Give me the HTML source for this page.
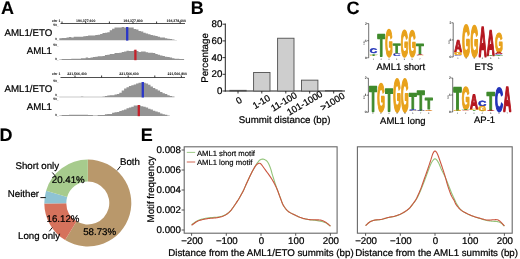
<!DOCTYPE html>
<html><head><meta charset="utf-8"><title>Figure</title>
<style>
html,body{margin:0;padding:0;background:#fff;}
body{width:520px;height:259px;overflow:hidden;}
svg{display:block;}
svg text{font-family:"Liberation Sans",Arial,sans-serif;text-rendering:geometricPrecision;}
</style></head><body>
<svg width="520" height="259" viewBox="0 0 520 259">
<defs><filter id="soft" x="0" y="0" width="100%" height="100%" filterUnits="userSpaceOnUse" color-interpolation-filters="sRGB"><feGaussianBlur stdDeviation="0.3"/></filter></defs>
<rect width="520" height="259" fill="#fff"/>
<g filter="url(#soft)">
<rect width="520" height="259" fill="#fff"/>
<text x="0.90" y="14.10" font-size="18" text-anchor="start" font-weight="bold" fill="#000" stroke="#000" stroke-width="0.1" >A</text>
<text x="190.80" y="14.10" font-size="18" text-anchor="start" font-weight="bold" fill="#000" stroke="#000" stroke-width="0.1" >B</text>
<text x="346.50" y="14.10" font-size="18" text-anchor="start" font-weight="bold" fill="#000" stroke="#000" stroke-width="0.1" >C</text>
<text x="-0.50" y="141.40" font-size="18" text-anchor="start" font-weight="bold" fill="#000" stroke="#000" stroke-width="0.1" >D</text>
<text x="140.80" y="141.40" font-size="18" text-anchor="start" font-weight="bold" fill="#000" stroke="#000" stroke-width="0.1" >E</text>
<line x1="60.5" y1="23.5" x2="185" y2="23.5" stroke="#222" stroke-width="0.8"/>
<line x1="62.0" y1="21.5" x2="62.0" y2="23.5" stroke="#222" stroke-width="0.9"/>
<line x1="85.7" y1="21.5" x2="85.7" y2="23.5" stroke="#222" stroke-width="0.9"/>
<line x1="109.4" y1="21.5" x2="109.4" y2="23.5" stroke="#222" stroke-width="0.9"/>
<line x1="133.0" y1="21.5" x2="133.0" y2="23.5" stroke="#222" stroke-width="0.9"/>
<line x1="156.6" y1="21.5" x2="156.6" y2="23.5" stroke="#222" stroke-width="0.9"/>
<line x1="180.2" y1="21.5" x2="180.2" y2="23.5" stroke="#222" stroke-width="0.9"/>
<text x="52.00" y="21.60" font-size="3.5" text-anchor="start" font-weight="bold" fill="#000" stroke="#000" stroke-width="0" >chr 1</text>
<text x="85.70" y="21.60" font-size="3.5" text-anchor="middle" font-weight="bold" fill="#000" stroke="#000" stroke-width="0" >194,377,600</text>
<text x="133.00" y="21.60" font-size="3.5" text-anchor="middle" font-weight="bold" fill="#000" stroke="#000" stroke-width="0" >194,377,800</text>
<text x="186.00" y="21.60" font-size="3.5" text-anchor="end" font-weight="bold" fill="#000" stroke="#000" stroke-width="0" >194,378,000</text>
<text x="58.50" y="26.00" font-size="3.2" text-anchor="end" font-weight="bold" fill="#000" stroke="#000" stroke-width="0" >50_</text>
<text x="58.50" y="40.10" font-size="3.2" text-anchor="end" font-weight="bold" fill="#000" stroke="#000" stroke-width="0" >0_</text>
<polygon points="59.3,40.3 59.3,38.3 61.7,38.3 61.7,37.9 64.1,37.9 64.1,37.9 66.5,37.9 66.5,37.5 68.9,37.5 68.9,37.1 71.3,37.1 71.3,37.5 73.7,37.5 73.7,36.7 76.1,36.7 76.1,36.7 78.5,36.7 78.5,36.7 80.9,36.7 80.9,36.7 83.3,36.7 83.3,36.3 85.7,36.3 85.7,35.9 88.1,35.9 88.1,35.5 90.5,35.5 90.5,35.5 92.9,35.5 92.9,35.5 95.3,35.5 95.3,35.1 97.7,35.1 97.7,34.7 100.1,34.7 100.1,33.9 102.5,33.9 102.5,33.1 104.9,33.1 104.9,32.7 107.3,32.7 107.3,32.3 109.7,32.3 109.7,30.3 112.1,30.3 112.1,28.7 114.5,28.7 114.5,27.5 116.9,27.5 116.9,27.5 119.3,27.5 119.3,27.5 121.7,27.5 121.7,27.1 124.1,27.1 124.1,27.5 126.5,27.5 126.5,27.5 128.9,27.5 128.9,27.5 131.3,27.5 131.3,27.5 133.7,27.5 133.7,29.1 136.1,29.1 136.1,29.5 138.5,29.5 138.5,31.1 140.9,31.1 140.9,31.5 143.3,31.5 143.3,32.7 145.7,32.7 145.7,33.5 148.1,33.5 148.1,34.3 150.5,34.3 150.5,35.1 152.9,35.1 152.9,35.5 155.3,35.5 155.3,35.9 157.7,35.9 157.7,36.7 160.1,36.7 160.1,37.5 162.5,37.5 162.5,37.5 164.9,37.5 164.9,38.3 167.3,38.3 167.3,38.7 169.7,38.7 169.7,39.1 172.1,39.1 172.1,39.5 174.5,39.5 174.5,39.9 176.9,39.9 176.9,40.3 179.3,40.3 179.3,40.3 181.7,40.3 181.7,40.3 184.1,40.3 184.1,40.3" fill="#939393"/>
<rect x="126.05" y="27.0" width="2.3" height="13.6" fill="#2a36c8"/>
<text x="58.50" y="46.40" font-size="3.2" text-anchor="end" font-weight="bold" fill="#000" stroke="#000" stroke-width="0" >50_</text>
<text x="58.50" y="59.70" font-size="3.2" text-anchor="end" font-weight="bold" fill="#000" stroke="#000" stroke-width="0" >0_</text>
<polygon points="59.3,59.9 59.3,59.5 61.7,59.5 61.7,59.1 64.1,59.1 64.1,59.1 66.5,59.1 66.5,59.1 68.9,59.1 68.9,59.1 71.3,59.1 71.3,58.7 73.7,58.7 73.7,58.7 76.1,58.7 76.1,58.7 78.5,58.7 78.5,58.7 80.9,58.7 80.9,58.3 83.3,58.3 83.3,58.3 85.7,58.3 85.7,57.5 88.1,57.5 88.1,57.9 90.5,57.9 90.5,57.5 92.9,57.5 92.9,57.1 95.3,57.1 95.3,56.7 97.7,56.7 97.7,56.3 100.1,56.3 100.1,56.3 102.5,56.3 102.5,55.9 104.9,55.9 104.9,55.1 107.3,55.1 107.3,54.7 109.7,54.7 109.7,53.9 112.1,53.9 112.1,53.9 114.5,53.9 114.5,53.1 116.9,53.1 116.9,53.1 119.3,53.1 119.3,52.7 121.7,52.7 121.7,51.9 124.1,51.9 124.1,51.5 126.5,51.5 126.5,50.7 128.9,50.7 128.9,51.1 131.3,51.1 131.3,51.1 133.7,51.1 133.7,50.3 136.1,50.3 136.1,51.1 138.5,51.1 138.5,51.9 140.9,51.9 140.9,51.5 143.3,51.5 143.3,51.5 145.7,51.5 145.7,52.3 148.1,52.3 148.1,52.7 150.5,52.7 150.5,52.7 152.9,52.7 152.9,53.1 155.3,53.1 155.3,53.9 157.7,53.9 157.7,54.7 160.1,54.7 160.1,55.5 162.5,55.5 162.5,55.9 164.9,55.9 164.9,56.7 167.3,56.7 167.3,57.1 169.7,57.1 169.7,57.5 172.1,57.5 172.1,58.3 174.5,58.3 174.5,58.7 176.9,58.7 176.9,58.7 179.3,58.7 179.3,59.1 181.7,59.1 181.7,59.1 184.1,59.1 184.1,59.9" fill="#939393"/>
<rect x="134.25" y="49.7" width="2.3" height="10.5" fill="#c4202a"/>
<text x="52.30" y="36.00" font-size="9.7" text-anchor="end" font-weight="normal" fill="#000" stroke="#000" stroke-width="0.22" >AML1/ETO</text>
<text x="52.00" y="54.40" font-size="9.7" text-anchor="end" font-weight="normal" fill="#000" stroke="#000" stroke-width="0.22" >AML1</text>
<line x1="60.5" y1="77.5" x2="185" y2="77.5" stroke="#222" stroke-width="0.8"/>
<line x1="75.0" y1="75.5" x2="75.0" y2="77.5" stroke="#222" stroke-width="0.9"/>
<line x1="101.6" y1="75.5" x2="101.6" y2="77.5" stroke="#222" stroke-width="0.9"/>
<line x1="128.2" y1="75.5" x2="128.2" y2="77.5" stroke="#222" stroke-width="0.9"/>
<line x1="154.8" y1="75.5" x2="154.8" y2="77.5" stroke="#222" stroke-width="0.9"/>
<line x1="181.4" y1="75.5" x2="181.4" y2="77.5" stroke="#222" stroke-width="0.9"/>
<text x="52.00" y="75.20" font-size="3.5" text-anchor="start" font-weight="bold" fill="#000" stroke="#000" stroke-width="0" >chr 1</text>
<text x="77.00" y="75.20" font-size="3.5" text-anchor="middle" font-weight="bold" fill="#000" stroke="#000" stroke-width="0" >221,566,400</text>
<text x="129.00" y="75.20" font-size="3.5" text-anchor="middle" font-weight="bold" fill="#000" stroke="#000" stroke-width="0" >221,566,600</text>
<text x="187.00" y="75.20" font-size="3.5" text-anchor="end" font-weight="bold" fill="#000" stroke="#000" stroke-width="0" >221,566,800</text>
<text x="58.50" y="81.80" font-size="3.2" text-anchor="end" font-weight="bold" fill="#000" stroke="#000" stroke-width="0" >50_</text>
<text x="58.50" y="96.30" font-size="3.2" text-anchor="end" font-weight="bold" fill="#000" stroke="#000" stroke-width="0" >0_</text>
<polygon points="59.3,97.2 59.3,96.8 61.7,96.8 61.7,96.8 64.1,96.8 64.1,96.8 66.5,96.8 66.5,96.8 68.9,96.8 68.9,96.8 71.3,96.8 71.3,96.8 73.7,96.8 73.7,96.8 76.1,96.8 76.1,96.8 78.5,96.8 78.5,96.8 80.9,96.8 80.9,96.4 83.3,96.4 83.3,96.8 85.7,96.8 85.7,96.8 88.1,96.8 88.1,96.8 90.5,96.8 90.5,96.8 92.9,96.8 92.9,96.8 95.3,96.8 95.3,96.8 97.7,96.8 97.7,96.8 100.1,96.8 100.1,96.8 102.5,96.8 102.5,96.4 104.9,96.4 104.9,96.0 107.3,96.0 107.3,95.6 109.7,95.6 109.7,95.2 112.1,95.2 112.1,95.2 114.5,95.2 114.5,94.4 116.9,94.4 116.9,94.0 119.3,94.0 119.3,92.8 121.7,92.8 121.7,90.4 124.1,90.4 124.1,88.4 126.5,88.4 126.5,87.2 128.9,87.2 128.9,86.0 131.3,86.0 131.3,85.2 133.7,85.2 133.7,84.4 136.1,84.4 136.1,83.6 138.5,83.6 138.5,82.8 140.9,82.8 140.9,82.4 143.3,82.4 143.3,82.8 145.7,82.8 145.7,83.6 148.1,83.6 148.1,84.8 150.5,84.8 150.5,86.4 152.9,86.4 152.9,88.0 155.3,88.0 155.3,89.2 157.7,89.2 157.7,90.4 160.1,90.4 160.1,92.0 162.5,92.0 162.5,93.2 164.9,93.2 164.9,94.0 167.3,94.0 167.3,95.2 169.7,95.2 169.7,96.0 172.1,96.0 172.1,96.4 174.5,96.4 174.5,97.2 176.9,97.2 176.9,97.2 179.3,97.2 179.3,97.2 181.7,97.2 181.7,97.2 184.1,97.2 184.1,97.2" fill="#939393"/>
<rect x="141.65" y="82.0" width="2.3" height="15.5" fill="#2a36c8"/>
<text x="58.50" y="100.40" font-size="3.2" text-anchor="end" font-weight="bold" fill="#000" stroke="#000" stroke-width="0" >50_</text>
<text x="58.50" y="115.50" font-size="3.2" text-anchor="end" font-weight="bold" fill="#000" stroke="#000" stroke-width="0" >0_</text>
<polygon points="59.3,115.9 59.3,115.5 61.7,115.5 61.7,115.1 64.1,115.1 64.1,115.1 66.5,115.1 66.5,115.1 68.9,115.1 68.9,114.7 71.3,114.7 71.3,114.7 73.7,114.7 73.7,114.7 76.1,114.7 76.1,114.7 78.5,114.7 78.5,114.7 80.9,114.7 80.9,114.7 83.3,114.7 83.3,114.7 85.7,114.7 85.7,114.7 88.1,114.7 88.1,115.1 90.5,115.1 90.5,115.1 92.9,115.1 92.9,115.5 95.3,115.5 95.3,115.5 97.7,115.5 97.7,115.1 100.1,115.1 100.1,115.1 102.5,115.1 102.5,115.1 104.9,115.1 104.9,114.3 107.3,114.3 107.3,113.9 109.7,113.9 109.7,113.9 112.1,113.9 112.1,112.7 114.5,112.7 114.5,112.3 116.9,112.3 116.9,111.9 119.3,111.9 119.3,111.1 121.7,111.1 121.7,110.3 124.1,110.3 124.1,109.5 126.5,109.5 126.5,108.3 128.9,108.3 128.9,107.5 131.3,107.5 131.3,106.7 133.7,106.7 133.7,105.5 136.1,105.5 136.1,105.5 138.5,105.5 138.5,105.5 140.9,105.5 140.9,106.3 143.3,106.3 143.3,106.7 145.7,106.7 145.7,107.5 148.1,107.5 148.1,108.7 150.5,108.7 150.5,109.5 152.9,109.5 152.9,110.7 155.3,110.7 155.3,111.5 157.7,111.5 157.7,112.3 160.1,112.3 160.1,113.5 162.5,113.5 162.5,114.3 164.9,114.3 164.9,114.7 167.3,114.7 167.3,115.5 169.7,115.5 169.7,115.9 172.1,115.9 172.1,115.9 174.5,115.9 174.5,115.9 176.9,115.9 176.9,115.9 179.3,115.9 179.3,115.9 181.7,115.9 181.7,115.9 184.1,115.9 184.1,115.9" fill="#939393"/>
<rect x="137.65" y="105.0" width="2.3" height="11.2" fill="#c4202a"/>
<text x="52.30" y="91.70" font-size="9.7" text-anchor="end" font-weight="normal" fill="#000" stroke="#000" stroke-width="0.22" >AML1/ETO</text>
<text x="52.00" y="110.40" font-size="9.7" text-anchor="end" font-weight="normal" fill="#000" stroke="#000" stroke-width="0.22" >AML1</text>
<line x1="225.3" y1="23.5" x2="225.3" y2="91.5" stroke="#222" stroke-width="1"/>
<line x1="224.8" y1="91.0" x2="345" y2="91.0" stroke="#222" stroke-width="1"/>
<line x1="222.5" y1="91.0" x2="225.3" y2="91.0" stroke="#222" stroke-width="0.9"/>
<text x="222.30" y="94.00" font-size="9.7" text-anchor="end" font-weight="normal" fill="#000" stroke="#000" stroke-width="0.22" >0</text>
<line x1="222.5" y1="74.3" x2="225.3" y2="74.3" stroke="#222" stroke-width="0.9"/>
<text x="222.30" y="77.30" font-size="9.7" text-anchor="end" font-weight="normal" fill="#000" stroke="#000" stroke-width="0.22" >20</text>
<line x1="222.5" y1="57.6" x2="225.3" y2="57.6" stroke="#222" stroke-width="0.9"/>
<text x="222.30" y="60.60" font-size="9.7" text-anchor="end" font-weight="normal" fill="#000" stroke="#000" stroke-width="0.22" >40</text>
<line x1="222.5" y1="40.9" x2="225.3" y2="40.9" stroke="#222" stroke-width="0.9"/>
<text x="222.30" y="43.90" font-size="9.7" text-anchor="end" font-weight="normal" fill="#000" stroke="#000" stroke-width="0.22" >60</text>
<line x1="222.5" y1="24.2" x2="225.3" y2="24.2" stroke="#222" stroke-width="0.9"/>
<text x="222.30" y="27.20" font-size="9.7" text-anchor="end" font-weight="normal" fill="#000" stroke="#000" stroke-width="0.22" >80</text>
<rect x="229.8" y="90.33" width="16.4" height="0.67" fill="#cecece" stroke="#505050" stroke-width="0.9"/>
<rect x="253.6" y="72.46" width="16.4" height="18.54" fill="#cecece" stroke="#505050" stroke-width="0.9"/>
<rect x="277.6" y="38.23" width="16.4" height="52.77" fill="#cecece" stroke="#505050" stroke-width="0.9"/>
<rect x="301.5" y="80.14" width="16.4" height="10.86" fill="#cecece" stroke="#505050" stroke-width="0.9"/>
<rect x="325.5" y="90.58" width="16.4" height="0.42" fill="#cecece" stroke="#505050" stroke-width="0.9"/>
<line x1="238.0" y1="91.0" x2="238.0" y2="93.5" stroke="#222" stroke-width="0.9"/>
<text transform="translate(240.6,103.2) rotate(-30.5)" font-size="9.4" text-anchor="middle" fill="#000" stroke="#000" stroke-width="0.22">0</text>
<line x1="261.8" y1="91.0" x2="261.8" y2="93.5" stroke="#222" stroke-width="0.9"/>
<text transform="translate(263.0,104.5) rotate(-30.5)" font-size="9.4" text-anchor="middle" fill="#000" stroke="#000" stroke-width="0.22">1-10</text>
<line x1="285.8" y1="91.0" x2="285.8" y2="93.5" stroke="#222" stroke-width="0.9"/>
<text transform="translate(285.5,104.4) rotate(-30.5)" font-size="9.4" text-anchor="middle" fill="#000" stroke="#000" stroke-width="0.22">11-100</text>
<line x1="309.7" y1="91.0" x2="309.7" y2="93.5" stroke="#222" stroke-width="0.9"/>
<text transform="translate(306.3,105.8) rotate(-30.5)" font-size="9.4" text-anchor="middle" fill="#000" stroke="#000" stroke-width="0.22">101-1000</text>
<line x1="333.7" y1="91.0" x2="333.7" y2="93.5" stroke="#222" stroke-width="0.9"/>
<text transform="translate(334.2,104.4) rotate(-30.5)" font-size="9.4" text-anchor="middle" fill="#000" stroke="#000" stroke-width="0.22">&gt;1000</text>
<text x="284.60" y="123.00" font-size="9.7" text-anchor="middle" font-weight="normal" fill="#000" stroke="#000" stroke-width="0.22" >Summit distance (bp)</text>
<text transform="translate(208.3,58) rotate(-90)" font-size="9.7" text-anchor="middle" fill="#000" stroke="#000" stroke-width="0.22">Percentage</text>
<line x1="368.7" y1="23.6" x2="368.7" y2="57.8" stroke="#333" stroke-width="0.7"/>
<line x1="367.2" y1="23.6" x2="368.7" y2="23.6" stroke="#333" stroke-width="0.7"/>
<line x1="367.2" y1="40.7" x2="368.7" y2="40.7" stroke="#333" stroke-width="0.7"/>
<line x1="367.2" y1="57.8" x2="368.7" y2="57.8" stroke="#333" stroke-width="0.7"/>
<text x="366.90" y="24.60" font-size="3.3" text-anchor="end" font-weight="normal" fill="#000" stroke="#000" stroke-width="0.08" >2</text>
<text x="366.90" y="41.70" font-size="3.3" text-anchor="end" font-weight="normal" fill="#000" stroke="#000" stroke-width="0.08" >1</text>
<text x="366.90" y="58.80" font-size="3.3" text-anchor="end" font-weight="normal" fill="#000" stroke="#000" stroke-width="0.08" >0</text>
<text transform="translate(365.09999999999997,42.7) rotate(-90)" font-size="2.6" text-anchor="middle" fill="#444">bits</text>
<text transform="translate(373.50,53.36) scale(1.029,0.672)" font-size="10" font-weight="bold" text-anchor="middle" fill="#2233b8" stroke="#2233b8" stroke-width="0.7" stroke-linejoin="round" vector-effect="non-scaling-stroke">C</text>
<text transform="translate(373.50,55.50) scale(1.269,0.250)" font-size="10" font-weight="bold" text-anchor="middle" fill="#3f8a2c" stroke="#3f8a2c" stroke-width="0.3" stroke-linejoin="round" vector-effect="non-scaling-stroke">T</text>
<text transform="translate(373.50,56.30) scale(0.997,0.082)" font-size="10" font-weight="bold" text-anchor="middle" fill="#e8a21c" stroke="#e8a21c" stroke-width="0.3" stroke-linejoin="round" vector-effect="non-scaling-stroke">G</text>
<text x="373.38" y="59.90" font-size="2.4" text-anchor="middle" font-weight="normal" fill="#444" stroke="#444" stroke-width="0" >1</text>
<text transform="translate(381.26,56.16) scale(1.216,3.088)" font-size="10" font-weight="bold" text-anchor="middle" fill="#3f8a2c" stroke="#3f8a2c" stroke-width="0.7" stroke-linejoin="round" vector-effect="non-scaling-stroke">T</text>
<text x="381.14" y="59.90" font-size="2.4" text-anchor="middle" font-weight="normal" fill="#444" stroke="#444" stroke-width="0" >2</text>
<text transform="translate(389.02,56.16) scale(0.955,3.703)" font-size="10" font-weight="bold" text-anchor="middle" fill="#e8a21c" stroke="#e8a21c" stroke-width="0.7" stroke-linejoin="round" vector-effect="non-scaling-stroke">G</text>
<text x="388.90" y="59.90" font-size="2.4" text-anchor="middle" font-weight="normal" fill="#444" stroke="#444" stroke-width="0" >3</text>
<text transform="translate(396.78,52.96) scale(1.216,1.328)" font-size="10" font-weight="bold" text-anchor="middle" fill="#3f8a2c" stroke="#3f8a2c" stroke-width="0.7" stroke-linejoin="round" vector-effect="non-scaling-stroke">T</text>
<text transform="translate(396.78,53.50) scale(0.997,0.068)" font-size="10" font-weight="bold" text-anchor="middle" fill="#e8a21c" stroke="#e8a21c" stroke-width="0.3" stroke-linejoin="round" vector-effect="non-scaling-stroke">G</text>
<text transform="translate(396.78,56.30) scale(1.074,0.390)" font-size="10" font-weight="bold" text-anchor="middle" fill="#2233b8" stroke="#2233b8" stroke-width="0.3" stroke-linejoin="round" vector-effect="non-scaling-stroke">C</text>
<text x="396.66" y="59.90" font-size="2.4" text-anchor="middle" font-weight="normal" fill="#444" stroke="#444" stroke-width="0" >4</text>
<text transform="translate(404.54,56.16) scale(0.955,3.619)" font-size="10" font-weight="bold" text-anchor="middle" fill="#e8a21c" stroke="#e8a21c" stroke-width="0.7" stroke-linejoin="round" vector-effect="non-scaling-stroke">G</text>
<text x="404.42" y="59.90" font-size="2.4" text-anchor="middle" font-weight="normal" fill="#444" stroke="#444" stroke-width="0" >5</text>
<text transform="translate(412.30,56.16) scale(0.955,3.591)" font-size="10" font-weight="bold" text-anchor="middle" fill="#e8a21c" stroke="#e8a21c" stroke-width="0.7" stroke-linejoin="round" vector-effect="non-scaling-stroke">G</text>
<text x="412.18" y="59.90" font-size="2.4" text-anchor="middle" font-weight="normal" fill="#444" stroke="#444" stroke-width="0" >6</text>
<text transform="translate(420.06,54.46) scale(1.216,1.454)" font-size="10" font-weight="bold" text-anchor="middle" fill="#3f8a2c" stroke="#3f8a2c" stroke-width="0.7" stroke-linejoin="round" vector-effect="non-scaling-stroke">T</text>
<text transform="translate(420.06,55.30) scale(1.074,0.068)" font-size="10" font-weight="bold" text-anchor="middle" fill="#b5161f" stroke="#b5161f" stroke-width="0.3" stroke-linejoin="round" vector-effect="non-scaling-stroke">A</text>
<text transform="translate(420.06,55.90) scale(0.997,0.054)" font-size="10" font-weight="bold" text-anchor="middle" fill="#e8a21c" stroke="#e8a21c" stroke-width="0.3" stroke-linejoin="round" vector-effect="non-scaling-stroke">G</text>
<text transform="translate(420.06,56.30) scale(1.074,0.042)" font-size="10" font-weight="bold" text-anchor="middle" fill="#2233b8" stroke="#2233b8" stroke-width="0.3" stroke-linejoin="round" vector-effect="non-scaling-stroke">C</text>
<text x="419.94" y="59.90" font-size="2.4" text-anchor="middle" font-weight="normal" fill="#444" stroke="#444" stroke-width="0" >7</text>
<text x="400.80" y="70.00" font-size="9.5" text-anchor="middle" font-weight="normal" fill="#000" stroke="#000" stroke-width="0.22" >AML1 short</text>
<line x1="453.2" y1="22.8" x2="453.2" y2="57.0" stroke="#333" stroke-width="0.7"/>
<line x1="451.7" y1="22.8" x2="453.2" y2="22.8" stroke="#333" stroke-width="0.7"/>
<line x1="451.7" y1="39.9" x2="453.2" y2="39.9" stroke="#333" stroke-width="0.7"/>
<line x1="451.7" y1="57.0" x2="453.2" y2="57.0" stroke="#333" stroke-width="0.7"/>
<text x="451.40" y="23.80" font-size="3.3" text-anchor="end" font-weight="normal" fill="#000" stroke="#000" stroke-width="0.08" >2</text>
<text x="451.40" y="40.90" font-size="3.3" text-anchor="end" font-weight="normal" fill="#000" stroke="#000" stroke-width="0.08" >1</text>
<text x="451.40" y="58.00" font-size="3.3" text-anchor="end" font-weight="normal" fill="#000" stroke="#000" stroke-width="0.08" >0</text>
<text transform="translate(449.59999999999997,41.9) rotate(-90)" font-size="2.6" text-anchor="middle" fill="#444">bits</text>
<text transform="translate(458.10,51.66) scale(1.085,1.705)" font-size="10" font-weight="bold" text-anchor="middle" fill="#b5161f" stroke="#b5161f" stroke-width="0.7" stroke-linejoin="round" vector-effect="non-scaling-stroke">A</text>
<text transform="translate(458.10,55.16) scale(1.007,0.420)" font-size="10" font-weight="bold" text-anchor="middle" fill="#e8a21c" stroke="#e8a21c" stroke-width="0.7" stroke-linejoin="round" vector-effect="non-scaling-stroke">G</text>
<text transform="translate(458.10,56.20) scale(1.129,0.096)" font-size="10" font-weight="bold" text-anchor="middle" fill="#2233b8" stroke="#2233b8" stroke-width="0.3" stroke-linejoin="round" vector-effect="non-scaling-stroke">C</text>
<text x="457.97" y="59.10" font-size="2.4" text-anchor="middle" font-weight="normal" fill="#444" stroke="#444" stroke-width="0" >1</text>
<text transform="translate(466.25,56.05) scale(1.007,4.359)" font-size="10" font-weight="bold" text-anchor="middle" fill="#e8a21c" stroke="#e8a21c" stroke-width="0.7" stroke-linejoin="round" vector-effect="non-scaling-stroke">G</text>
<text x="466.12" y="59.10" font-size="2.4" text-anchor="middle" font-weight="normal" fill="#444" stroke="#444" stroke-width="0" >2</text>
<text transform="translate(474.40,56.05) scale(1.007,4.247)" font-size="10" font-weight="bold" text-anchor="middle" fill="#e8a21c" stroke="#e8a21c" stroke-width="0.7" stroke-linejoin="round" vector-effect="non-scaling-stroke">G</text>
<text x="474.27" y="59.10" font-size="2.4" text-anchor="middle" font-weight="normal" fill="#444" stroke="#444" stroke-width="0" >3</text>
<text transform="translate(482.55,56.05) scale(1.085,4.108)" font-size="10" font-weight="bold" text-anchor="middle" fill="#b5161f" stroke="#b5161f" stroke-width="0.7" stroke-linejoin="round" vector-effect="non-scaling-stroke">A</text>
<text x="482.42" y="59.10" font-size="2.4" text-anchor="middle" font-weight="normal" fill="#444" stroke="#444" stroke-width="0" >4</text>
<text transform="translate(490.70,55.16) scale(1.085,3.479)" font-size="10" font-weight="bold" text-anchor="middle" fill="#b5161f" stroke="#b5161f" stroke-width="0.7" stroke-linejoin="round" vector-effect="non-scaling-stroke">A</text>
<text transform="translate(490.70,56.20) scale(1.335,0.096)" font-size="10" font-weight="bold" text-anchor="middle" fill="#3f8a2c" stroke="#3f8a2c" stroke-width="0.3" stroke-linejoin="round" vector-effect="non-scaling-stroke">T</text>
<text x="490.57" y="59.10" font-size="2.4" text-anchor="middle" font-weight="normal" fill="#444" stroke="#444" stroke-width="0" >5</text>
<text transform="translate(498.85,51.55) scale(1.007,2.655)" font-size="10" font-weight="bold" text-anchor="middle" fill="#e8a21c" stroke="#e8a21c" stroke-width="0.7" stroke-linejoin="round" vector-effect="non-scaling-stroke">G</text>
<text transform="translate(498.85,54.30) scale(1.129,0.334)" font-size="10" font-weight="bold" text-anchor="middle" fill="#b5161f" stroke="#b5161f" stroke-width="0.3" stroke-linejoin="round" vector-effect="non-scaling-stroke">A</text>
<text transform="translate(498.85,55.20) scale(1.129,0.096)" font-size="10" font-weight="bold" text-anchor="middle" fill="#2233b8" stroke="#2233b8" stroke-width="0.3" stroke-linejoin="round" vector-effect="non-scaling-stroke">C</text>
<text transform="translate(498.85,56.20) scale(1.335,0.110)" font-size="10" font-weight="bold" text-anchor="middle" fill="#3f8a2c" stroke="#3f8a2c" stroke-width="0.3" stroke-linejoin="round" vector-effect="non-scaling-stroke">T</text>
<text x="498.72" y="59.10" font-size="2.4" text-anchor="middle" font-weight="normal" fill="#444" stroke="#444" stroke-width="0" >6</text>
<text x="483.80" y="70.00" font-size="9.5" text-anchor="middle" font-weight="normal" fill="#000" stroke="#000" stroke-width="0.22" >ETS</text>
<line x1="368.4" y1="78.2" x2="368.4" y2="112.2" stroke="#333" stroke-width="0.7"/>
<line x1="366.9" y1="78.2" x2="368.4" y2="78.2" stroke="#333" stroke-width="0.7"/>
<line x1="366.9" y1="95.2" x2="368.4" y2="95.2" stroke="#333" stroke-width="0.7"/>
<line x1="366.9" y1="112.2" x2="368.4" y2="112.2" stroke="#333" stroke-width="0.7"/>
<text x="366.60" y="79.20" font-size="3.3" text-anchor="end" font-weight="normal" fill="#000" stroke="#000" stroke-width="0.08" >2</text>
<text x="366.60" y="96.20" font-size="3.3" text-anchor="end" font-weight="normal" fill="#000" stroke="#000" stroke-width="0.08" >1</text>
<text x="366.60" y="113.20" font-size="3.3" text-anchor="end" font-weight="normal" fill="#000" stroke="#000" stroke-width="0.08" >0</text>
<text transform="translate(364.79999999999995,97.2) rotate(-90)" font-size="2.6" text-anchor="middle" fill="#444">bits</text>
<text transform="translate(373.10,111.16) scale(1.250,3.479)" font-size="10" font-weight="bold" text-anchor="middle" fill="#3f8a2c" stroke="#3f8a2c" stroke-width="0.7" stroke-linejoin="round" vector-effect="non-scaling-stroke">T</text>
<text x="372.98" y="114.30" font-size="2.4" text-anchor="middle" font-weight="normal" fill="#444" stroke="#444" stroke-width="0" >1</text>
<text transform="translate(381.06,111.16) scale(0.982,3.842)" font-size="10" font-weight="bold" text-anchor="middle" fill="#e8a21c" stroke="#e8a21c" stroke-width="0.7" stroke-linejoin="round" vector-effect="non-scaling-stroke">G</text>
<text x="380.94" y="114.30" font-size="2.4" text-anchor="middle" font-weight="normal" fill="#444" stroke="#444" stroke-width="0" >2</text>
<text transform="translate(389.02,111.16) scale(1.250,3.144)" font-size="10" font-weight="bold" text-anchor="middle" fill="#3f8a2c" stroke="#3f8a2c" stroke-width="0.7" stroke-linejoin="round" vector-effect="non-scaling-stroke">T</text>
<text x="388.90" y="114.30" font-size="2.4" text-anchor="middle" font-weight="normal" fill="#444" stroke="#444" stroke-width="0" >3</text>
<text transform="translate(396.98,111.16) scale(0.982,4.513)" font-size="10" font-weight="bold" text-anchor="middle" fill="#e8a21c" stroke="#e8a21c" stroke-width="0.7" stroke-linejoin="round" vector-effect="non-scaling-stroke">G</text>
<text x="396.86" y="114.30" font-size="2.4" text-anchor="middle" font-weight="normal" fill="#444" stroke="#444" stroke-width="0" >4</text>
<text transform="translate(404.94,111.16) scale(0.982,4.513)" font-size="10" font-weight="bold" text-anchor="middle" fill="#e8a21c" stroke="#e8a21c" stroke-width="0.7" stroke-linejoin="round" vector-effect="non-scaling-stroke">G</text>
<text x="404.82" y="114.30" font-size="2.4" text-anchor="middle" font-weight="normal" fill="#444" stroke="#444" stroke-width="0" >5</text>
<text transform="translate(412.90,109.05) scale(1.250,2.236)" font-size="10" font-weight="bold" text-anchor="middle" fill="#3f8a2c" stroke="#3f8a2c" stroke-width="0.7" stroke-linejoin="round" vector-effect="non-scaling-stroke">T</text>
<text transform="translate(412.90,110.80) scale(1.102,0.236)" font-size="10" font-weight="bold" text-anchor="middle" fill="#2233b8" stroke="#2233b8" stroke-width="0.3" stroke-linejoin="round" vector-effect="non-scaling-stroke">C</text>
<text transform="translate(412.90,111.30) scale(1.023,0.042)" font-size="10" font-weight="bold" text-anchor="middle" fill="#e8a21c" stroke="#e8a21c" stroke-width="0.3" stroke-linejoin="round" vector-effect="non-scaling-stroke">G</text>
<text x="412.78" y="114.30" font-size="2.4" text-anchor="middle" font-weight="normal" fill="#444" stroke="#444" stroke-width="0" >6</text>
<text transform="translate(420.86,109.55) scale(1.250,2.739)" font-size="10" font-weight="bold" text-anchor="middle" fill="#3f8a2c" stroke="#3f8a2c" stroke-width="0.7" stroke-linejoin="round" vector-effect="non-scaling-stroke">T</text>
<text transform="translate(420.86,110.80) scale(1.102,0.166)" font-size="10" font-weight="bold" text-anchor="middle" fill="#2233b8" stroke="#2233b8" stroke-width="0.3" stroke-linejoin="round" vector-effect="non-scaling-stroke">C</text>
<text transform="translate(420.86,111.30) scale(1.023,0.042)" font-size="10" font-weight="bold" text-anchor="middle" fill="#e8a21c" stroke="#e8a21c" stroke-width="0.3" stroke-linejoin="round" vector-effect="non-scaling-stroke">G</text>
<text x="420.74" y="114.30" font-size="2.4" text-anchor="middle" font-weight="normal" fill="#444" stroke="#444" stroke-width="0" >7</text>
<text transform="translate(428.82,109.35) scale(1.250,1.580)" font-size="10" font-weight="bold" text-anchor="middle" fill="#3f8a2c" stroke="#3f8a2c" stroke-width="0.7" stroke-linejoin="round" vector-effect="non-scaling-stroke">T</text>
<text transform="translate(428.82,110.69) scale(1.023,0.138)" font-size="10" font-weight="bold" text-anchor="middle" fill="#e8a21c" stroke="#e8a21c" stroke-width="0.3" stroke-linejoin="round" vector-effect="non-scaling-stroke">G</text>
<text transform="translate(428.82,111.30) scale(1.102,0.054)" font-size="10" font-weight="bold" text-anchor="middle" fill="#b5161f" stroke="#b5161f" stroke-width="0.3" stroke-linejoin="round" vector-effect="non-scaling-stroke">A</text>
<text x="428.70" y="114.30" font-size="2.4" text-anchor="middle" font-weight="normal" fill="#444" stroke="#444" stroke-width="0" >8</text>
<text x="402.80" y="123.90" font-size="9.5" text-anchor="middle" font-weight="normal" fill="#000" stroke="#000" stroke-width="0.22" >AML1 long</text>
<line x1="452.7" y1="78" x2="452.7" y2="112" stroke="#333" stroke-width="0.7"/>
<line x1="451.2" y1="78" x2="452.7" y2="78" stroke="#333" stroke-width="0.7"/>
<line x1="451.2" y1="95.0" x2="452.7" y2="95.0" stroke="#333" stroke-width="0.7"/>
<line x1="451.2" y1="112" x2="452.7" y2="112" stroke="#333" stroke-width="0.7"/>
<text x="450.90" y="79.00" font-size="3.3" text-anchor="end" font-weight="normal" fill="#000" stroke="#000" stroke-width="0.08" >2</text>
<text x="450.90" y="96.00" font-size="3.3" text-anchor="end" font-weight="normal" fill="#000" stroke="#000" stroke-width="0.08" >1</text>
<text x="450.90" y="113.00" font-size="3.3" text-anchor="end" font-weight="normal" fill="#000" stroke="#000" stroke-width="0.08" >0</text>
<text transform="translate(449.09999999999997,97.0) rotate(-90)" font-size="2.6" text-anchor="middle" fill="#444">bits</text>
<text transform="translate(457.47,109.55) scale(1.308,3.200)" font-size="10" font-weight="bold" text-anchor="middle" fill="#3f8a2c" stroke="#3f8a2c" stroke-width="0.7" stroke-linejoin="round" vector-effect="non-scaling-stroke">T</text>
<text transform="translate(457.47,111.19) scale(1.068,0.180)" font-size="10" font-weight="bold" text-anchor="middle" fill="#e8a21c" stroke="#e8a21c" stroke-width="0.3" stroke-linejoin="round" vector-effect="non-scaling-stroke">G</text>
<text x="457.35" y="114.10" font-size="2.4" text-anchor="middle" font-weight="normal" fill="#444" stroke="#444" stroke-width="0" >1</text>
<text transform="translate(465.77,109.35) scale(1.027,3.088)" font-size="10" font-weight="bold" text-anchor="middle" fill="#e8a21c" stroke="#e8a21c" stroke-width="0.7" stroke-linejoin="round" vector-effect="non-scaling-stroke">G</text>
<text transform="translate(465.77,110.39) scale(1.360,0.096)" font-size="10" font-weight="bold" text-anchor="middle" fill="#3f8a2c" stroke="#3f8a2c" stroke-width="0.3" stroke-linejoin="round" vector-effect="non-scaling-stroke">T</text>
<text transform="translate(465.77,111.19) scale(1.151,0.082)" font-size="10" font-weight="bold" text-anchor="middle" fill="#b5161f" stroke="#b5161f" stroke-width="0.3" stroke-linejoin="round" vector-effect="non-scaling-stroke">A</text>
<text x="465.65" y="114.10" font-size="2.4" text-anchor="middle" font-weight="normal" fill="#444" stroke="#444" stroke-width="0" >2</text>
<text transform="translate(474.07,108.55) scale(1.107,2.082)" font-size="10" font-weight="bold" text-anchor="middle" fill="#b5161f" stroke="#b5161f" stroke-width="0.7" stroke-linejoin="round" vector-effect="non-scaling-stroke">A</text>
<text transform="translate(474.07,110.09) scale(1.068,0.166)" font-size="10" font-weight="bold" text-anchor="middle" fill="#e8a21c" stroke="#e8a21c" stroke-width="0.3" stroke-linejoin="round" vector-effect="non-scaling-stroke">G</text>
<text transform="translate(474.07,111.19) scale(1.360,0.124)" font-size="10" font-weight="bold" text-anchor="middle" fill="#3f8a2c" stroke="#3f8a2c" stroke-width="0.3" stroke-linejoin="round" vector-effect="non-scaling-stroke">T</text>
<text x="473.95" y="114.10" font-size="2.4" text-anchor="middle" font-weight="normal" fill="#444" stroke="#444" stroke-width="0" >3</text>
<text transform="translate(482.37,105.55) scale(1.107,0.742)" font-size="10" font-weight="bold" text-anchor="middle" fill="#2233b8" stroke="#2233b8" stroke-width="0.7" stroke-linejoin="round" vector-effect="non-scaling-stroke">C</text>
<text transform="translate(482.37,110.75) scale(1.027,0.700)" font-size="10" font-weight="bold" text-anchor="middle" fill="#e8a21c" stroke="#e8a21c" stroke-width="0.7" stroke-linejoin="round" vector-effect="non-scaling-stroke">G</text>
<text transform="translate(482.37,111.19) scale(1.360,0.042)" font-size="10" font-weight="bold" text-anchor="middle" fill="#3f8a2c" stroke="#3f8a2c" stroke-width="0.3" stroke-linejoin="round" vector-effect="non-scaling-stroke">T</text>
<text x="482.25" y="114.10" font-size="2.4" text-anchor="middle" font-weight="normal" fill="#444" stroke="#444" stroke-width="0" >4</text>
<text transform="translate(490.67,109.55) scale(1.308,2.529)" font-size="10" font-weight="bold" text-anchor="middle" fill="#3f8a2c" stroke="#3f8a2c" stroke-width="0.7" stroke-linejoin="round" vector-effect="non-scaling-stroke">T</text>
<text transform="translate(490.67,111.19) scale(1.151,0.180)" font-size="10" font-weight="bold" text-anchor="middle" fill="#b5161f" stroke="#b5161f" stroke-width="0.3" stroke-linejoin="round" vector-effect="non-scaling-stroke">A</text>
<text x="490.55" y="114.10" font-size="2.4" text-anchor="middle" font-weight="normal" fill="#444" stroke="#444" stroke-width="0" >5</text>
<text transform="translate(498.97,110.55) scale(1.107,3.284)" font-size="10" font-weight="bold" text-anchor="middle" fill="#2233b8" stroke="#2233b8" stroke-width="0.7" stroke-linejoin="round" vector-effect="non-scaling-stroke">C</text>
<text x="498.85" y="114.10" font-size="2.4" text-anchor="middle" font-weight="normal" fill="#444" stroke="#444" stroke-width="0" >6</text>
<text transform="translate(507.27,110.55) scale(1.107,3.423)" font-size="10" font-weight="bold" text-anchor="middle" fill="#b5161f" stroke="#b5161f" stroke-width="0.7" stroke-linejoin="round" vector-effect="non-scaling-stroke">A</text>
<text x="507.15" y="114.10" font-size="2.4" text-anchor="middle" font-weight="normal" fill="#444" stroke="#444" stroke-width="0" >7</text>
<text x="484.60" y="123.40" font-size="9.5" text-anchor="middle" font-weight="normal" fill="#000" stroke="#000" stroke-width="0.22" >AP-1</text>
<path d="M87.80,159.50 A43.5,43.5 0 1 1 65.12,240.12 L76.59,221.35 A21.5,21.5 0 1 0 87.80,181.50 Z" fill="#b9986b"/>
<path d="M65.12,240.12 A43.5,43.5 0 0 1 44.30,203.41 L66.30,203.20 A21.5,21.5 0 0 0 76.59,221.35 Z" fill="#d6725c"/>
<path d="M44.30,203.41 A43.5,43.5 0 0 1 46.10,190.63 L67.19,196.89 A21.5,21.5 0 0 0 66.30,203.20 Z" fill="#8ec3d3"/>
<path d="M46.10,190.63 A43.5,43.5 0 0 1 87.80,159.50 L87.80,181.50 A21.5,21.5 0 0 0 67.19,196.89 Z" fill="#a7cb8d"/>
<line x1="52.3" y1="172.5" x2="56.2" y2="177" stroke="#111" stroke-width="1"/>
<line x1="120.4" y1="166.3" x2="117.2" y2="170.4" stroke="#111" stroke-width="1"/>
<line x1="40.4" y1="197.6" x2="45.8" y2="197.6" stroke="#111" stroke-width="1"/>
<line x1="49.3" y1="231.3" x2="52.3" y2="227.5" stroke="#111" stroke-width="1"/>
<text x="15.50" y="168.80" font-size="9.7" text-anchor="start" font-weight="normal" fill="#000" stroke="#000" stroke-width="0.22" >Short only</text>
<text x="120.00" y="165.20" font-size="9.7" text-anchor="start" font-weight="normal" fill="#000" stroke="#000" stroke-width="0.22" >Both</text>
<text x="7.80" y="197.30" font-size="9.7" text-anchor="start" font-weight="normal" fill="#000" stroke="#000" stroke-width="0.22" >Neither</text>
<text x="18.00" y="238.80" font-size="9.7" text-anchor="start" font-weight="normal" fill="#000" stroke="#000" stroke-width="0.22" >Long only</text>
<text x="51.80" y="182.80" font-size="9.7" text-anchor="start" font-weight="normal" fill="#000" stroke="#000" stroke-width="0.22" >20.41%</text>
<text x="46.60" y="221.70" font-size="9.7" text-anchor="start" font-weight="normal" fill="#000" stroke="#000" stroke-width="0.22" >16.12%</text>
<text x="83.20" y="235.10" font-size="9.7" text-anchor="start" font-weight="normal" fill="#000" stroke="#000" stroke-width="0.22" >58.73%</text>
<rect x="184.2" y="146.8" width="152.90000000000003" height="86.39999999999998" fill="none" stroke="#686868" stroke-width="1.1"/>
<line x1="181.6" y1="230" x2="184.2" y2="230" stroke="#444" stroke-width="0.9"/>
<text x="180.80" y="233.40" font-size="9.7" text-anchor="end" font-weight="normal" fill="#000" stroke="#000" stroke-width="0.22" >0.000</text>
<line x1="181.6" y1="210" x2="184.2" y2="210" stroke="#444" stroke-width="0.9"/>
<text x="180.80" y="213.40" font-size="9.7" text-anchor="end" font-weight="normal" fill="#000" stroke="#000" stroke-width="0.22" >0.002</text>
<line x1="181.6" y1="190" x2="184.2" y2="190" stroke="#444" stroke-width="0.9"/>
<text x="180.80" y="193.40" font-size="9.7" text-anchor="end" font-weight="normal" fill="#000" stroke="#000" stroke-width="0.22" >0.004</text>
<line x1="181.6" y1="170" x2="184.2" y2="170" stroke="#444" stroke-width="0.9"/>
<text x="180.80" y="173.40" font-size="9.7" text-anchor="end" font-weight="normal" fill="#000" stroke="#000" stroke-width="0.22" >0.006</text>
<line x1="181.6" y1="150" x2="184.2" y2="150" stroke="#444" stroke-width="0.9"/>
<text x="180.80" y="153.40" font-size="9.7" text-anchor="end" font-weight="normal" fill="#000" stroke="#000" stroke-width="0.22" >0.008</text>
<line x1="191.6" y1="233.2" x2="191.6" y2="235.8" stroke="#444" stroke-width="0.9"/>
<text x="192.10" y="244.00" font-size="9.7" text-anchor="middle" font-weight="normal" fill="#000" stroke="#000" stroke-width="0.22" >−200</text>
<line x1="226.3" y1="233.2" x2="226.3" y2="235.8" stroke="#444" stroke-width="0.9"/>
<text x="226.80" y="244.00" font-size="9.7" text-anchor="middle" font-weight="normal" fill="#000" stroke="#000" stroke-width="0.22" >−100</text>
<line x1="261.0" y1="233.2" x2="261.0" y2="235.8" stroke="#444" stroke-width="0.9"/>
<text x="261.50" y="244.00" font-size="9.7" text-anchor="middle" font-weight="normal" fill="#000" stroke="#000" stroke-width="0.22" >0</text>
<line x1="295.7" y1="233.2" x2="295.7" y2="235.8" stroke="#444" stroke-width="0.9"/>
<text x="296.20" y="244.00" font-size="9.7" text-anchor="middle" font-weight="normal" fill="#000" stroke="#000" stroke-width="0.22" >100</text>
<line x1="330.4" y1="233.2" x2="330.4" y2="235.8" stroke="#444" stroke-width="0.9"/>
<text x="330.90" y="244.00" font-size="9.7" text-anchor="middle" font-weight="normal" fill="#000" stroke="#000" stroke-width="0.22" >200</text>
<text x="261.00" y="255.50" font-size="9.74" text-anchor="middle" font-weight="normal" fill="#000" stroke="#000" stroke-width="0.22" >Distance from the AML1/ETO summits (bp)</text>
<text transform="translate(154.3,189.3) rotate(-90)" font-size="9.7" text-anchor="middle" fill="#000" stroke="#000" stroke-width="0.22">Motif frequency</text>
<polyline points="191.60,224.80 192.29,224.32 192.99,223.81 193.68,223.29 194.38,222.77 195.07,222.26 195.76,221.78 196.46,221.33 197.15,220.94 197.85,220.60 198.54,220.31 199.23,220.04 199.93,219.79 200.62,219.55 201.32,219.34 202.01,219.14 202.70,218.95 203.40,218.78 204.09,218.62 204.79,218.47 205.48,218.33 206.17,218.19 206.87,218.06 207.56,217.94 208.26,217.84 208.95,217.75 209.64,217.68 210.34,217.62 211.03,217.57 211.73,217.53 212.42,217.49 213.11,217.45 213.81,217.41 214.50,217.37 215.20,217.32 215.89,217.27 216.58,217.20 217.28,217.12 217.97,217.02 218.67,216.90 219.36,216.76 220.05,216.61 220.75,216.44 221.44,216.25 222.14,216.04 222.83,215.80 223.52,215.54 224.22,215.26 224.91,214.94 225.61,214.60 226.30,214.22 226.99,213.78 227.69,213.29 228.38,212.75 229.08,212.16 229.77,211.51 230.46,210.80 231.16,210.02 231.85,209.15 232.55,208.21 233.24,207.23 233.93,206.22 234.63,205.20 235.32,204.20 236.02,203.19 236.71,202.17 237.40,201.13 238.10,200.06 238.79,198.95 239.49,197.80 240.18,196.60 240.87,195.35 241.57,194.07 242.26,192.74 242.96,191.39 243.65,190.00 244.34,188.51 245.04,186.90 245.73,185.28 246.43,183.74 247.12,182.21 247.81,180.70 248.51,179.20 249.20,177.73 249.90,176.28 250.59,174.86 251.28,173.45 251.98,172.08 252.67,170.75 253.37,169.47 254.06,168.23 254.75,167.02 255.45,165.86 256.14,164.72 256.84,163.65 257.53,162.67 258.22,161.80 258.92,160.97 259.61,160.23 260.31,159.70 261.00,159.38 261.69,159.18 262.39,159.09 263.08,159.11 263.78,159.25 264.47,159.51 265.16,159.88 265.86,160.32 266.55,160.80 267.25,161.47 267.94,162.49 268.63,163.79 269.33,165.30 270.02,167.00 270.72,168.91 271.41,171.27 272.10,173.81 272.80,176.12 273.49,178.26 274.19,180.40 274.88,182.66 275.57,184.80 276.27,186.72 276.96,188.57 277.66,190.44 278.35,192.33 279.04,194.21 279.74,196.09 280.43,197.95 281.13,199.83 281.82,201.80 282.51,203.63 283.21,205.10 283.90,206.26 284.60,207.32 285.29,208.28 285.98,209.14 286.68,209.91 287.37,210.59 288.07,211.19 288.76,211.72 289.45,212.20 290.15,212.63 290.84,213.02 291.54,213.38 292.23,213.73 292.92,214.06 293.62,214.39 294.31,214.73 295.01,215.07 295.70,215.42 296.39,215.75 297.09,216.08 297.78,216.39 298.48,216.70 299.17,216.99 299.86,217.27 300.56,217.53 301.25,217.78 301.95,218.01 302.64,218.23 303.33,218.43 304.03,218.61 304.72,218.79 305.42,218.95 306.11,219.10 306.80,219.24 307.50,219.38 308.19,219.51 308.89,219.63 309.58,219.74 310.27,219.83 310.97,219.91 311.66,219.98 312.36,220.05 313.05,220.11 313.74,220.18 314.44,220.25 315.13,220.33 315.83,220.42 316.52,220.52 317.21,220.62 317.91,220.73 318.60,220.84 319.30,220.96 319.99,221.09 320.68,221.24 321.38,221.40 322.07,221.57 322.77,221.75 323.46,221.95 324.15,222.17 324.85,222.42 325.54,222.72 326.24,223.08 326.93,223.50 327.62,224.00 328.32,224.54 329.01,225.10 329.71,225.66 330.40,226.20" fill="none" stroke="#93c47a" stroke-width="1.1" stroke-linejoin="round"/>
<polyline points="191.60,225.20 192.29,224.73 192.99,224.23 193.68,223.72 194.38,223.21 195.07,222.72 195.76,222.24 196.46,221.81 197.15,221.42 197.85,221.10 198.54,220.82 199.23,220.57 199.93,220.34 200.62,220.12 201.32,219.93 202.01,219.75 202.70,219.58 203.40,219.43 204.09,219.28 204.79,219.14 205.48,219.01 206.17,218.89 206.87,218.76 207.56,218.64 208.26,218.53 208.95,218.44 209.64,218.37 210.34,218.30 211.03,218.24 211.73,218.18 212.42,218.13 213.11,218.08 213.81,218.03 214.50,217.97 215.20,217.90 215.89,217.83 216.58,217.75 217.28,217.65 217.97,217.53 218.67,217.40 219.36,217.25 220.05,217.08 220.75,216.89 221.44,216.68 222.14,216.45 222.83,216.19 223.52,215.91 224.22,215.60 224.91,215.27 225.61,214.90 226.30,214.49 226.99,214.03 227.69,213.51 228.38,212.93 229.08,212.31 229.77,211.63 230.46,210.90 231.16,210.10 231.85,209.21 232.55,208.25 233.24,207.25 233.93,206.23 234.63,205.21 235.32,204.20 236.02,203.19 236.71,202.16 237.40,201.12 238.10,200.06 238.79,198.95 239.49,197.80 240.18,196.60 240.87,195.35 241.57,194.07 242.26,192.74 242.96,191.39 243.65,190.00 244.34,188.51 245.04,186.90 245.73,185.28 246.43,183.74 247.12,182.21 247.81,180.70 248.51,179.20 249.20,177.73 249.90,176.28 250.59,174.84 251.28,173.42 251.98,172.05 252.67,170.74 253.37,169.50 254.06,168.28 254.75,167.12 255.45,166.06 256.14,165.16 256.84,164.44 257.53,163.91 258.22,163.53 258.92,163.28 259.61,163.18 260.31,163.45 261.00,164.00 261.69,164.81 262.39,165.80 263.08,166.79 263.78,167.75 264.47,168.71 265.16,169.68 265.86,170.64 266.55,171.59 267.25,172.52 267.94,173.43 268.63,174.37 269.33,175.35 270.02,176.35 270.72,177.38 271.41,178.45 272.10,179.56 272.80,180.70 273.49,181.88 274.19,183.14 274.88,184.48 275.57,185.89 276.27,187.38 276.96,188.96 277.66,190.67 278.35,192.52 279.04,194.44 279.74,196.37 280.43,198.25 281.13,200.09 281.82,201.96 282.51,203.69 283.21,205.10 283.90,206.24 284.60,207.29 285.29,208.26 285.98,209.13 286.68,209.90 287.37,210.59 288.07,211.19 288.76,211.72 289.45,212.20 290.15,212.63 290.84,213.02 291.54,213.38 292.23,213.73 292.92,214.06 293.62,214.39 294.31,214.73 295.01,215.07 295.70,215.42 296.39,215.75 297.09,216.08 297.78,216.40 298.48,216.70 299.17,217.00 299.86,217.28 300.56,217.54 301.25,217.78 301.95,218.01 302.64,218.22 303.33,218.42 304.03,218.60 304.72,218.77 305.42,218.93 306.11,219.07 306.80,219.20 307.50,219.32 308.19,219.43 308.89,219.52 309.58,219.60 310.27,219.65 310.97,219.68 311.66,219.70 312.36,219.71 313.05,219.72 313.74,219.73 314.44,219.75 315.13,219.77 315.83,219.81 316.52,219.84 317.21,219.86 317.91,219.88 318.60,219.91 319.30,219.96 319.99,220.04 320.68,220.15 321.38,220.30 322.07,220.50 322.77,220.76 323.46,221.05 324.15,221.39 324.85,221.76 325.54,222.16 326.24,222.59 326.93,223.08 327.62,223.63 328.32,224.21 329.01,224.82 329.71,225.42 330.40,226.00" fill="none" stroke="#cb5640" stroke-width="1.1" stroke-linejoin="round"/>
<line x1="186.8" y1="152.4" x2="195.2" y2="152.4" stroke="#93c47a" stroke-width="0.9"/>
<line x1="186.8" y1="162" x2="195.2" y2="162" stroke="#cb5640" stroke-width="0.9"/>
<text x="196.90" y="156.00" font-size="7.7" text-anchor="start" font-weight="normal" fill="#000" stroke="#000" stroke-width="0.15" >AML1 short motif</text>
<text x="196.90" y="165.40" font-size="7.7" text-anchor="start" font-weight="normal" fill="#000" stroke="#000" stroke-width="0.15" >AML1 long motif</text>
<rect x="357.4" y="146.8" width="154.80000000000007" height="86.39999999999998" fill="none" stroke="#686868" stroke-width="1.1"/>
<line x1="365.6" y1="233.2" x2="365.6" y2="235.8" stroke="#444" stroke-width="0.9"/>
<text x="366.10" y="244.00" font-size="9.7" text-anchor="middle" font-weight="normal" fill="#000" stroke="#000" stroke-width="0.22" >−200</text>
<line x1="400.3" y1="233.2" x2="400.3" y2="235.8" stroke="#444" stroke-width="0.9"/>
<text x="400.80" y="244.00" font-size="9.7" text-anchor="middle" font-weight="normal" fill="#000" stroke="#000" stroke-width="0.22" >−100</text>
<line x1="435.0" y1="233.2" x2="435.0" y2="235.8" stroke="#444" stroke-width="0.9"/>
<text x="435.50" y="244.00" font-size="9.7" text-anchor="middle" font-weight="normal" fill="#000" stroke="#000" stroke-width="0.22" >0</text>
<line x1="469.7" y1="233.2" x2="469.7" y2="235.8" stroke="#444" stroke-width="0.9"/>
<text x="470.20" y="244.00" font-size="9.7" text-anchor="middle" font-weight="normal" fill="#000" stroke="#000" stroke-width="0.22" >100</text>
<line x1="504.4" y1="233.2" x2="504.4" y2="235.8" stroke="#444" stroke-width="0.9"/>
<text x="504.90" y="244.00" font-size="9.7" text-anchor="middle" font-weight="normal" fill="#000" stroke="#000" stroke-width="0.22" >200</text>
<text x="436.60" y="255.50" font-size="9.74" text-anchor="middle" font-weight="normal" fill="#000" stroke="#000" stroke-width="0.22" >Distance from the AML1 summits (bp)</text>
<polyline points="365.60,225.60 366.29,224.96 366.99,224.30 367.68,223.64 368.38,223.01 369.07,222.45 369.76,222.00 370.46,221.62 371.15,221.29 371.85,221.01 372.54,220.76 373.23,220.56 373.93,220.38 374.62,220.23 375.32,220.11 376.01,220.02 376.70,219.95 377.40,219.90 378.09,219.85 378.79,219.80 379.48,219.74 380.17,219.67 380.87,219.56 381.56,219.43 382.26,219.27 382.95,219.09 383.64,218.90 384.34,218.69 385.03,218.48 385.73,218.27 386.42,218.07 387.11,217.87 387.81,217.69 388.50,217.52 389.20,217.38 389.89,217.25 390.58,217.13 391.28,217.01 391.97,216.90 392.67,216.77 393.36,216.64 394.05,216.48 394.75,216.30 395.44,216.09 396.14,215.87 396.83,215.64 397.52,215.40 398.22,215.14 398.91,214.87 399.61,214.58 400.30,214.27 400.99,213.94 401.69,213.58 402.38,213.21 403.08,212.83 403.77,212.43 404.46,212.02 405.16,211.58 405.85,211.13 406.55,210.64 407.24,210.13 407.93,209.59 408.63,209.01 409.32,208.37 410.02,207.64 410.71,206.83 411.40,205.95 412.10,205.04 412.79,204.12 413.49,203.22 414.18,202.36 414.87,201.49 415.57,200.53 416.26,199.43 416.96,198.21 417.65,196.89 418.34,195.50 419.04,194.04 419.73,192.53 420.43,190.96 421.12,189.33 421.81,187.64 422.51,185.88 423.20,184.08 423.90,182.27 424.59,180.45 425.28,178.63 425.98,176.78 426.67,174.92 427.37,173.02 428.06,171.11 428.75,169.21 429.45,167.38 430.14,165.64 430.84,163.99 431.53,162.57 432.22,161.48 432.92,160.49 433.61,159.63 434.31,159.03 435.00,158.80 435.69,159.01 436.39,159.57 437.08,160.41 437.78,161.44 438.47,162.62 439.16,164.07 439.86,165.72 440.55,167.41 441.25,169.02 441.94,170.47 442.63,171.83 443.33,173.16 444.02,174.53 444.72,176.00 445.41,177.60 446.10,179.28 446.80,181.02 447.49,182.77 448.19,184.50 448.88,186.23 449.57,187.99 450.27,189.74 450.96,191.48 451.66,193.18 452.35,194.80 453.04,196.34 453.74,197.82 454.43,199.27 455.13,200.74 455.82,202.22 456.51,203.60 457.21,204.77 457.90,205.88 458.60,206.96 459.29,207.96 459.98,208.85 460.68,209.60 461.37,210.23 462.07,210.78 462.76,211.28 463.45,211.73 464.15,212.15 464.84,212.53 465.54,212.90 466.23,213.27 466.92,213.64 467.62,213.99 468.31,214.32 469.01,214.63 469.70,214.94 470.39,215.23 471.09,215.51 471.78,215.78 472.48,216.05 473.17,216.31 473.86,216.57 474.56,216.81 475.25,217.05 475.95,217.27 476.64,217.49 477.33,217.70 478.03,217.91 478.72,218.11 479.42,218.32 480.11,218.53 480.80,218.74 481.50,218.95 482.19,219.17 482.89,219.39 483.58,219.60 484.27,219.81 484.97,220.01 485.66,220.20 486.36,220.38 487.05,220.54 487.74,220.68 488.44,220.80 489.13,220.90 489.83,220.98 490.52,221.06 491.21,221.12 491.91,221.18 492.60,221.25 493.30,221.32 493.99,221.37 494.68,221.40 495.38,221.42 496.07,221.46 496.77,221.52 497.46,221.63 498.15,221.79 498.85,221.99 499.54,222.26 500.24,222.58 500.93,222.97 501.62,223.46 502.32,224.07 503.01,224.77 503.71,225.50 504.40,226.20" fill="none" stroke="#93c47a" stroke-width="1.1" stroke-linejoin="round"/>
<polyline points="365.60,225.60 366.29,224.97 366.99,224.30 367.68,223.64 368.38,223.02 369.07,222.46 369.76,221.99 370.46,221.60 371.15,221.26 371.85,220.96 372.54,220.70 373.23,220.47 373.93,220.28 374.62,220.12 375.32,220.00 376.01,219.91 376.70,219.84 377.40,219.79 378.09,219.74 378.79,219.70 379.48,219.64 380.17,219.56 380.87,219.46 381.56,219.33 382.26,219.17 382.95,218.99 383.64,218.80 384.34,218.59 385.03,218.38 385.73,218.17 386.42,217.97 387.11,217.77 387.81,217.59 388.50,217.42 389.20,217.28 389.89,217.15 390.58,217.03 391.28,216.91 391.97,216.80 392.67,216.67 393.36,216.54 394.05,216.38 394.75,216.20 395.44,215.99 396.14,215.77 396.83,215.54 397.52,215.30 398.22,215.04 398.91,214.77 399.61,214.48 400.30,214.17 400.99,213.84 401.69,213.48 402.38,213.11 403.08,212.73 403.77,212.33 404.46,211.92 405.16,211.49 405.85,211.03 406.55,210.55 407.24,210.04 407.93,209.49 408.63,208.91 409.32,208.27 410.02,207.54 410.71,206.71 411.40,205.83 412.10,204.90 412.79,203.96 413.49,203.03 414.18,202.11 414.87,201.16 415.57,200.09 416.26,198.87 416.96,197.50 417.65,196.04 418.34,194.50 419.04,192.93 419.73,191.31 420.43,189.63 421.12,187.87 421.81,185.99 422.51,184.03 423.20,182.01 423.90,179.99 424.59,177.99 425.28,176.08 425.98,174.24 426.67,172.30 427.37,170.27 428.06,168.22 428.75,166.15 429.45,164.07 430.14,161.99 430.84,159.90 431.53,157.64 432.22,155.35 432.92,153.50 433.61,152.19 434.31,151.32 435.00,151.00 435.69,151.27 436.39,152.04 437.08,153.22 437.78,154.74 438.47,156.51 439.16,158.46 439.86,160.49 440.55,162.50 441.25,164.50 441.94,166.52 442.63,168.58 443.33,170.68 444.02,172.83 444.72,175.04 445.41,177.42 446.10,179.95 446.80,182.48 447.49,184.88 448.19,187.07 448.88,189.13 449.57,191.10 450.27,192.95 450.96,194.68 451.66,196.25 452.35,197.52 453.04,198.64 453.74,199.77 454.43,201.12 455.13,202.73 455.82,204.17 456.51,205.18 457.21,206.10 457.90,206.96 458.60,207.76 459.29,208.50 459.98,209.18 460.68,209.80 461.37,210.35 462.07,210.85 462.76,211.31 463.45,211.72 464.15,212.11 464.84,212.47 465.54,212.83 466.23,213.18 466.92,213.53 467.62,213.87 468.31,214.20 469.01,214.51 469.70,214.82 470.39,215.12 471.09,215.40 471.78,215.68 472.48,215.95 473.17,216.21 473.86,216.46 474.56,216.70 475.25,216.93 475.95,217.15 476.64,217.36 477.33,217.56 478.03,217.76 478.72,217.95 479.42,218.14 480.11,218.33 480.80,218.53 481.50,218.72 482.19,218.93 482.89,219.13 483.58,219.32 484.27,219.51 484.97,219.68 485.66,219.83 486.36,219.96 487.05,220.07 487.74,220.14 488.44,220.15 489.13,220.13 489.83,220.08 490.52,220.01 491.21,219.94 491.91,219.87 492.60,219.82 493.30,219.80 493.99,219.75 494.68,219.70 495.38,219.65 496.07,219.63 496.77,219.68 497.46,219.80 498.15,220.04 498.85,220.43 499.54,220.94 500.24,221.54 500.93,222.18 501.62,222.84 502.32,223.58 503.01,224.38 503.71,225.20 504.40,226.00" fill="none" stroke="#cb5640" stroke-width="1.1" stroke-linejoin="round"/>
</g>
</svg>
</body></html>
